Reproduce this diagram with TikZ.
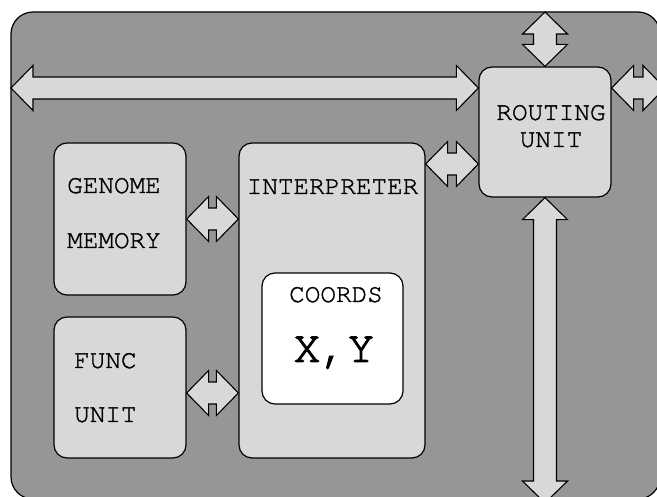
\documentclass[tikz,border=0pt]{standalone}
\usepackage{fontspec}
\setmonofont[FakeBold=1.3]{texgyrecursor-regular.otf}
\newfontfamily\cursorheavy[FakeBold=2.2]{texgyrecursor-regular.otf}
\usetikzlibrary{calc}
\definecolor{outerg}{RGB}{150,150,150}
\definecolor{boxg}{RGB}{216,216,216}
\tikzset{
  outerbox/.style={draw=black, line width=1.2pt, fill=outerg, rounded corners=22pt},
  unitbox/.style={draw=black, line width=1.2pt, fill=boxg, rounded corners=13pt, inner sep=0pt},
  coordbox/.style={unitbox, fill=white},
  lbl/.style={inner sep=0pt, font=\ttfamily\fontsize{26}{30}\selectfont},
  biglbl/.style={inner sep=0pt, font=\cursorheavy\fontsize{45}{50}\selectfont},
  arrowshape/.style={draw=black, line width=1.1pt, fill=boxg, line join=miter},
}
% horizontal double arrow between two points (tips)
\newcommand{\hdarrow}[2]{%
  \path[arrowshape] let \p1=(#1), \p2=(#2) in
    (\x1,\y1) -- (\x1+22pt,\y1+22.5pt) -- (\x1+22pt,\y1+11pt) -- (\x2-22pt,\y1+11pt)
    -- (\x2-22pt,\y1+22.5pt) -- (\x2,\y1) -- (\x2-22pt,\y1-22.5pt) -- (\x2-22pt,\y1-11pt)
    -- (\x1+22pt,\y1-11pt) -- (\x1+22pt,\y1-22.5pt) -- cycle;}
% vertical double arrow between two points (tips), #1 above #2
\newcommand{\vdarrow}[2]{%
  \path[arrowshape] let \p1=(#1), \p2=(#2) in
    (\x1,\y1) -- (\x1+22.5pt,\y1-22pt) -- (\x1+11.5pt,\y1-22pt) -- (\x1+11.5pt,\y2+22pt)
    -- (\x1+22.5pt,\y2+22pt) -- (\x1,\y2) -- (\x1-22.5pt,\y2+22pt) -- (\x1-11.5pt,\y2+22pt)
    -- (\x1-11.5pt,\y1-22pt) -- (\x1-22.5pt,\y1-22pt) -- cycle;}
\begin{document}
\begin{tikzpicture}[x=1pt,y=-1pt]
\useasboundingbox (0,0) rectangle (657,497);
\draw[outerbox] (11,12) rectangle (660,499);
\coordinate (outertop) at (545,12);
\coordinate (busL) at (11,88);
\coordinate (rightend) at (665,88);
\coordinate (bottomend) at (545,503);
\coordinate (rilevel) at (0,164);
\coordinate (filevel) at (0,393);

\node[unitbox, minimum width=132pt, minimum height=152pt] (genome) at (120,219) {};
\node[unitbox, minimum width=132pt, minimum height=141pt] (func) at (120,387.5) {};
\node[unitbox, minimum width=186pt, minimum height=315pt] (interp) at (332,300.5) {};
\node[coordbox, minimum width=141pt, minimum height=131pt] (coords) at (332.5,338.5) {};
\node[unitbox, minimum width=132pt, minimum height=130pt] (route) at (545,132) {};

\node[lbl, anchor=base west] (genomeA) at (67,193) {GENOME};
\node[lbl, anchor=base west] (genomeB) at (67,248) {MEMORY};
\node[lbl, anchor=base west] (funcA) at (74,368) {FUNC};
\node[lbl, anchor=base west] (funcB) at (74,422) {UNIT};
\node[lbl, anchor=base] (interpA) at (332.5,194) {INTERPRETER};
\node[lbl, anchor=base] (coordsA) at (336,302) {COORDS};
\node[biglbl, anchor=base] (coordsB) at (334,362) {X,Y};
\node[lbl, anchor=base] (routeA) at (551,120) {ROUTING};
\node[lbl, anchor=base] (routeB) at (551,147) {UNIT};

\hdarrow{busL}{busL -| route.west}
\hdarrow{rilevel -| interp.east}{rilevel -| route.west}
\hdarrow{genome.east}{genome.east -| interp.west}
\hdarrow{filevel -| func.east}{filevel -| interp.west}
\hdarrow{busL -| route.east}{rightend}
\vdarrow{outertop}{route.north}
\vdarrow{route.south}{bottomend}
\end{tikzpicture}
\end{document}
